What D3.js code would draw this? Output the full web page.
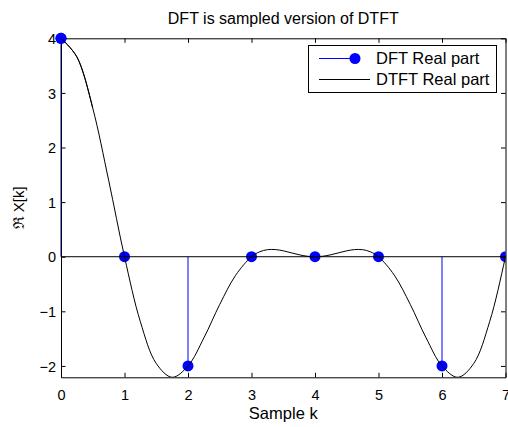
<!DOCTYPE html>
<html>
<head>
<meta charset="utf-8">
<script src="https://cdn.jsdelivr.net/npm/d3@7"></script>
<style>
  html, body { margin: 0; padding: 0; background: #fff; }
  svg { display: block; }
  text { font-family: "Liberation Sans", Arial, Helvetica, sans-serif; fill: #000; }
</style>
</head>
<body>
<svg id="chart" width="508" height="427"></svg>
<script>
// ---- data ----
const sampleK = [0, 1, 2, 3, 4, 5, 6, 7];
const dftReal = [4, 0, -2, 0, 0, 0, -2, 0];

const dtftK = [0, 0.25, 0.5, 0.75, 1, 1.25, 1.5, 1.75, 2, 2.25, 2.5, 2.75, 3, 3.125, 3.25, 3.375, 3.5, 3.625, 3.75, 3.875, 4,
               4.125, 4.25, 4.375, 4.5, 4.625, 4.75, 4.875, 5, 5.25, 5.5, 5.75, 6, 6.25, 6.5, 6.75, 7, 7.25];
const dtftReal = [4, 3.660, 2.721, 1.402, 0, -1.191, -1.955, -2.208, -2, -1.487, -0.873, -0.340, 0, 0.089, 0.129, 0.131, 0.108, 0.072, 0.036, 0.009, 0,
                  0.009, 0.036, 0.072, 0.108, 0.131, 0.129, 0.089, 0, -0.340, -0.873, -1.487, -2, -2.208, -1.955, -1.191, 0, 1.402];

const xTicks = [0, 1, 2, 3, 4, 5, 6, 7];
const yTicks = [-2, -1, 0, 1, 2, 3, 4];
const xDomain = [0, 7];
const yDomain = [-2.2082, 4];

const titleText = "DFT is sampled version of DTFT";
const xLabelText = "Sample k";
const yLabelText = "\u211C X[k]";
const legendLabels = ["DFT Real part", "DTFT Real part"];

// ---- layout ----
const L = 61, R = 505.5, T = 38.3, B = 377.3;
const svg = d3.select("#chart");
const x = d3.scaleLinear().domain(xDomain).range([L, R]);
const y = d3.scaleLinear().domain(yDomain).range([B, T]);

const blue = "#0000ff";

svg.append("defs").append("clipPath").attr("id", "plotclip")
  .append("rect").attr("x", L).attr("y", T).attr("width", R - L).attr("height", B - T);
svg.append("defs").append("clipPath").attr("id", "markclip")
  .append("rect").attr("x", 0).attr("y", 0).attr("width", R).attr("height", 427);

// stems (k=0 stem lies on the axis, drawn later)
const plot = svg.append("g");
plot.append("g").selectAll("line").data(sampleK.filter(d => d !== xDomain[0])).join("line")
  .attr("x1", d => x(d)).attr("x2", d => x(d))
  .attr("y1", y(0)).attr("y2", d => y(dftReal[sampleK.indexOf(d)]))
  .attr("stroke", blue).attr("stroke-width", 1);

// markers
plot.append("g").attr("clip-path", "url(#markclip)")
  .selectAll("circle").data(sampleK).join("circle")
  .attr("cx", d => x(d)).attr("cy", (d, i) => y(dftReal[i]))
  .attr("r", 5.5).attr("fill", blue);

// baseline
plot.append("line").attr("x1", L).attr("x2", R).attr("y1", y(0)).attr("y2", y(0))
  .attr("stroke", "#000").attr("stroke-width", 1);

// DTFT curve
const line = d3.line().x(d => x(d[0])).y(d => y(d[1])).curve(d3.curveCatmullRom.alpha(0.5));
plot.append("path").attr("clip-path", "url(#plotclip)")
  .attr("d", line(dtftK.map((k, i) => [k, dtftReal[i]])))
  .attr("fill", "none").attr("stroke", "#000").attr("stroke-width", 1);

// axes (inward ticks, box)
const tickLen = 4.5;
const axG = svg.append("g");
const bottomAxis = d3.axisBottom(x).tickValues(xTicks).tickSizeInner(-tickLen).tickSizeOuter(0).tickPadding(10).tickFormat(d3.format("d"));
const topAxis = d3.axisTop(x).tickValues(xTicks).tickSizeInner(-tickLen).tickSizeOuter(0).tickFormat("");
const leftAxis = d3.axisLeft(y).tickValues(yTicks).tickSizeInner(-tickLen).tickSizeOuter(0).tickPadding(10).tickFormat(d => d < 0 ? "\u2212" + Math.abs(d) : d);
const rightAxis = d3.axisRight(y).tickValues(yTicks).tickSizeInner(-tickLen).tickSizeOuter(0).tickFormat("");

const gb = axG.append("g").attr("transform", `translate(0,${B})`).call(bottomAxis);
const gt = axG.append("g").attr("transform", `translate(0,${T})`).call(topAxis);
const gl = axG.append("g").attr("transform", `translate(${L},0)`).call(leftAxis);
const gr = axG.append("g").attr("transform", `translate(${R},0)`).call(rightAxis);
[gb, gt, gl, gr].forEach(g => {
  g.select(".domain").attr("stroke", "#000").attr("stroke-width", 1);
  g.selectAll(".tick line").attr("stroke", "#000").attr("stroke-width", 1);
  g.selectAll(".tick text").attr("font-size", "14.5px").attr("font-family", null).attr("fill", "#000");
});
gb.selectAll(".tick text").attr("dy", null).attr("y", 23);
gl.selectAll(".tick text").attr("dy", "0.36em").attr("x", -5);

// stem at k=0 over the left axis (dark blue blend)
svg.append("line").attr("x1", x(0)).attr("x2", x(0)).attr("y1", y(0)).attr("y2", y(dftReal[0]))
  .attr("stroke", "#000066").attr("stroke-width", 1);
svg.append("circle").attr("cx", x(0)).attr("cy", y(dftReal[0])).attr("r", 5.5).attr("fill", blue);
// curve start over marker
svg.append("path").attr("clip-path", "url(#plotclip)")
  .attr("d", line(dtftK.slice(0, 3).map((k, i) => [k, dtftReal[i]])))
  .attr("fill", "none").attr("stroke", "#000").attr("stroke-width", 1);

// title & labels
svg.append("text").attr("x", (L + R) / 2).attr("y", 24.3).attr("text-anchor", "middle")
  .attr("font-size", "16px").text(titleText);
svg.append("text").attr("x", (L + R) / 2).attr("y", 419).attr("text-anchor", "middle")
  .attr("font-size", "16.5px").text(xLabelText);
svg.append("text").attr("transform", `translate(24,${(T + B) / 2}) rotate(-90)`).attr("text-anchor", "middle")
  .attr("font-size", "15px").text(yLabelText);

// legend
const lg = svg.append("g");
lg.append("rect").attr("x", 308.5).attr("y", 45.5).attr("width", 188).attr("height", 47)
  .attr("fill", "#fff").attr("stroke", "#000").attr("stroke-width", 1);
lg.append("line").attr("x1", 319).attr("x2", 355).attr("y1", 58.5).attr("y2", 58.5).attr("stroke", blue);
lg.append("circle").attr("cx", 355).attr("cy", 58.5).attr("r", 5.5).attr("fill", blue);
lg.append("line").attr("x1", 319).attr("x2", 370).attr("y1", 79.5).attr("y2", 79.5).attr("stroke", "#000");
lg.append("text").attr("x", 376).attr("y", 64).attr("font-size", "16.5px").text(legendLabels[0]);
lg.append("text").attr("x", 376).attr("y", 85).attr("font-size", "16.5px").text(legendLabels[1]);
</script>
</body>
</html>
